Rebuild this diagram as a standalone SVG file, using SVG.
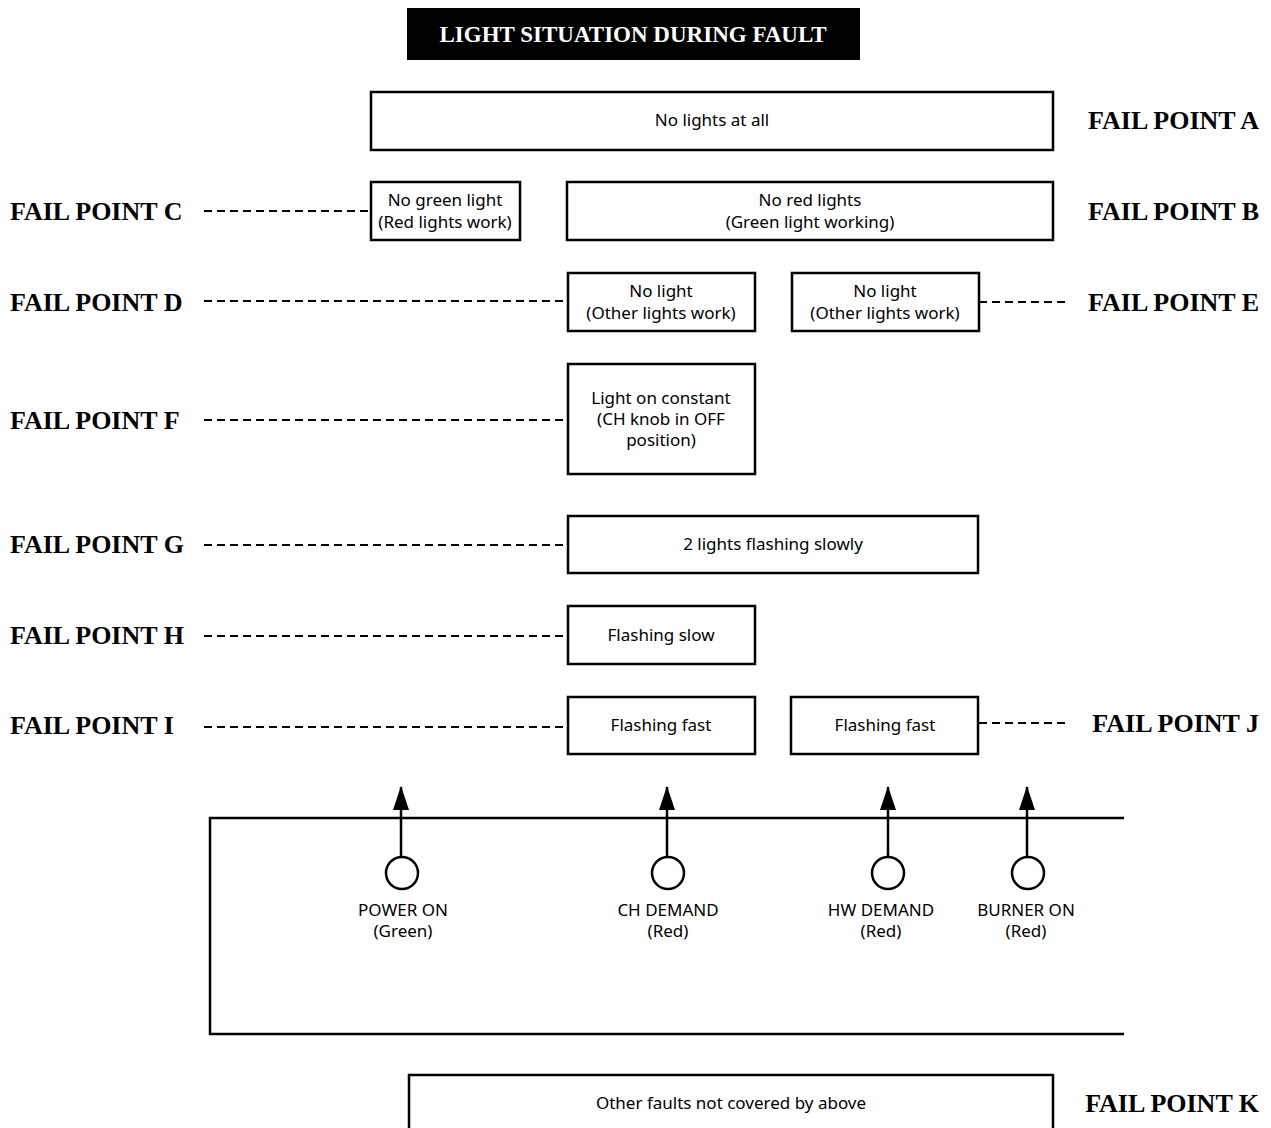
<svg xmlns="http://www.w3.org/2000/svg" width="1271" height="1128" viewBox="0 0 1271 1128">
<style>
.box{fill:#fff;stroke:#000;stroke-width:2.5}
.t{font-family:"Noto Sans","Open Sans",sans-serif;font-size:17px;fill:#000;text-anchor:middle}
.fp{font-family:"Liberation Serif","Times New Roman",serif;font-weight:bold;font-size:26px;fill:#000}
.dash{stroke:#000;stroke-width:2;stroke-dasharray:8,5;fill:none}
.ln{stroke:#000;stroke-width:2.5;fill:none}
</style>
<defs>
<marker id="ah" viewBox="0 0 24 16" refX="23" refY="8" markerWidth="24" markerHeight="16" markerUnits="userSpaceOnUse" orient="auto">
<path d="M0,0 L24,8 L0,16 z" fill="#000"/>
</marker>
</defs>
<rect width="1271" height="1128" fill="#fff"/>
<g id="title">
<rect x="407" y="8" width="453" height="52" fill="#000"/>
<text x="633" y="42" font-family="Liberation Serif, serif" font-weight="bold" font-size="23" fill="#fff" text-anchor="middle">LIGHT SITUATION DURING FAULT</text>
</g>
<g id="connectors">
<line class="dash" x1="204" y1="211" x2="371" y2="211"/>
<line class="dash" x1="204" y1="301" x2="568" y2="301"/>
<line class="dash" x1="979" y1="302" x2="1066" y2="302"/>
<line class="dash" x1="204" y1="420" x2="568" y2="420"/>
<line class="dash" x1="204" y1="545" x2="568" y2="545"/>
<line class="dash" x1="204" y1="636" x2="568" y2="636"/>
<line class="dash" x1="204" y1="727" x2="568" y2="727"/>
<line class="dash" x1="979" y1="723" x2="1066" y2="723"/>
<line class="ln" x1="401" y1="857" x2="401" y2="787" marker-end="url(#ah)"/>
<line class="ln" x1="667" y1="857" x2="667" y2="787" marker-end="url(#ah)"/>
<line class="ln" x1="888" y1="857" x2="888" y2="787" marker-end="url(#ah)"/>
<line class="ln" x1="1027" y1="857" x2="1027" y2="787" marker-end="url(#ah)"/>
</g>
<g id="nodeA"><rect class="box" x="371" y="92" width="682" height="58"/><text class="t" x="712" y="126">No lights at all</text></g>
<g id="labelA"><text class="fp" x="1259" y="129" text-anchor="end">FAIL POINT A</text></g>
<g id="nodeC"><rect class="box" x="371" y="182" width="149" height="58"/><text class="t" x="445" y="206">No green light</text><text class="t" x="445" y="228">(Red lights work)</text></g>
<g id="labelC"><text class="fp" x="10" y="220">FAIL POINT C</text></g>
<g id="nodeB"><rect class="box" x="567" y="182" width="486" height="58"/><text class="t" x="810" y="206">No red lights</text><text class="t" x="810" y="228">(Green light working)</text></g>
<g id="labelB"><text class="fp" x="1259" y="220" text-anchor="end">FAIL POINT B</text></g>
<g id="nodeD"><rect class="box" x="568" y="273" width="187" height="58"/><text class="t" x="661" y="297">No light</text><text class="t" x="661" y="319">(Other lights work)</text></g>
<g id="labelD"><text class="fp" x="10" y="311">FAIL POINT D</text></g>
<g id="nodeE"><rect class="box" x="792" y="273" width="187" height="58"/><text class="t" x="885" y="297">No light</text><text class="t" x="885" y="319">(Other lights work)</text></g>
<g id="labelE"><text class="fp" x="1259" y="311" text-anchor="end">FAIL POINT E</text></g>
<g id="nodeF"><rect class="box" x="568" y="364" width="187" height="110"/><text class="t" x="661" y="404">Light on constant</text><text class="t" x="661" y="425">(CH knob in OFF</text><text class="t" x="661" y="446">position)</text></g>
<g id="labelF"><text class="fp" x="10" y="429">FAIL POINT F</text></g>
<g id="nodeG"><rect class="box" x="568" y="516" width="410" height="57"/><text class="t" x="773" y="550">2 lights flashing slowly</text></g>
<g id="labelG"><text class="fp" x="10" y="553">FAIL POINT G</text></g>
<g id="nodeH"><rect class="box" x="568" y="606" width="187" height="58"/><text class="t" x="661" y="641">Flashing slow</text></g>
<g id="labelH"><text class="fp" x="10" y="644">FAIL POINT H</text></g>
<g id="nodeI"><rect class="box" x="568" y="697" width="187" height="57"/><text class="t" x="661" y="731">Flashing fast</text></g>
<g id="labelI"><text class="fp" x="10" y="734">FAIL POINT I</text></g>
<g id="nodeJ"><rect class="box" x="791" y="697" width="187" height="57"/><text class="t" x="885" y="731">Flashing fast</text></g>
<g id="labelJ"><text class="fp" x="1259" y="732" text-anchor="end">FAIL POINT J</text></g>
<g id="panel"><path class="ln" d="M1124,818 H210 V1034 H1124"/></g>
<g id="lamp1"><circle class="box" cx="402" cy="873" r="16"/><text class="t" x="403" y="916">POWER ON</text><text class="t" x="403" y="937">(Green)</text></g>
<g id="lamp2"><circle class="box" cx="668" cy="873" r="16"/><text class="t" x="668" y="916">CH DEMAND</text><text class="t" x="668" y="937">(Red)</text></g>
<g id="lamp3"><circle class="box" cx="888" cy="873" r="16"/><text class="t" x="881" y="916">HW DEMAND</text><text class="t" x="881" y="937">(Red)</text></g>
<g id="lamp4"><circle class="box" cx="1028" cy="873" r="16"/><text class="t" x="1026" y="916">BURNER ON</text><text class="t" x="1026" y="937">(Red)</text></g>
<g id="nodeK"><path class="ln" d="M409,1130 V1075 H1053 V1130"/><text class="t" x="731" y="1109">Other faults not covered by above</text></g>
<g id="labelK"><text class="fp" x="1259" y="1112" text-anchor="end">FAIL POINT K</text></g>
</svg>
